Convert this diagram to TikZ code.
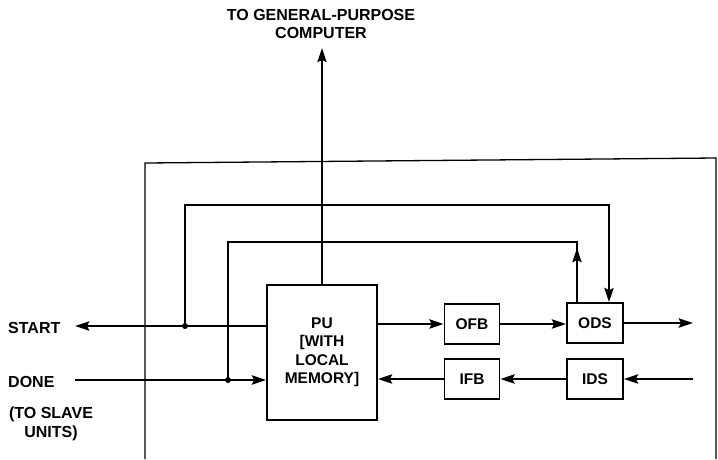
\documentclass[tikz,border=0pt]{standalone}
\usepackage{fontspec}
\setmainfont{Liberation Sans}
\usetikzlibrary{arrows.meta}
\begin{document}
\begin{tikzpicture}[x=1pt,y=-1pt,
  box/.style={draw,line width=1.7pt,inner sep=0pt,align=center,font=\fontsize{15.5}{18.5}\selectfont\bfseries},
  conn/.style={line width=2.8pt},
  arr/.style={conn,-{Stealth[length=14pt,width=9pt,inset=2pt]}},
  lbl/.style={font=\fontsize{16}{18.5}\selectfont\bfseries,align=center,inner sep=0pt}]
\useasboundingbox (0,0) rectangle (718,459);
% frame
\draw[line width=1.3pt] (145,459) -- (145,163) -- (716,158) -- (716,459);
% blocks
\node[box,minimum width=110,minimum height=135] (pu) at (322,352.5) {PU\\{[}WITH\\LOCAL\\MEMORY]};
\node[box,minimum width=55,minimum height=40] (ofb) at (472,324) {OFB};
\node[box,minimum width=56,minimum height=40] (ods) at (595,323) {ODS};
\node[box,minimum width=55,minimum height=40] (ifb) at (472,379) {IFB};
\node[box,minimum width=56,minimum height=40] (ids) at (595,379) {IDS};
% labels
\node[lbl] (tgt) at (321,24) {TO GENERAL-PURPOSE\\COMPUTER};
\node[lbl,anchor=west] (start) at (8,328) {START};
\node[lbl,anchor=west] (done) at (8,382) {DONE};
\node[lbl] (slave) at (51,424) {(TO SLAVE\\UNITS)};
% coordinates
\coordinate (top) at (322,48);
\coordinate (startTip) at (75,326);
\coordinate (doneS) at (75,380);
\coordinate (j1) at (185,326);
\coordinate (j2) at (228,380);
\coordinate (odsIn) at ([xshift=14]ods.north);
\coordinate (odsOut) at ([xshift=-18]ods.north);
\coordinate (outR) at (693,323);
\coordinate (inR) at (693,379);
\coordinate (l1) at (185,205);
\coordinate (l2) at (228,242);
% connectors
\draw[arr,line width=2.3pt] (pu.north) -- (top);
\draw[arr] (pu.west |- startTip) -- (startTip);
\draw[arr] (doneS) -- (doneS -| pu.west);
\draw[arr] (j1) -- (l1) -| (odsIn);
\draw[conn] (odsOut) |- (l2) -- (j2);
\draw[arr] (odsOut) -- (odsOut |- 0,248);
\draw[arr] (pu.east |- ofb.west) -- (ofb.west);
\draw[arr] (ofb.east) -- (ods.west |- ofb.east);
\draw[arr] (ods.east) -- (outR);
\draw[arr] (inR) -- (ids.east);
\draw[arr] (ids.west) -- (ifb.east);
\draw[arr] (ifb.west) -- (ifb.west -| pu.east);
\fill (j1) circle (3);
\fill (j2) circle (3);
\end{tikzpicture}
\end{document}
